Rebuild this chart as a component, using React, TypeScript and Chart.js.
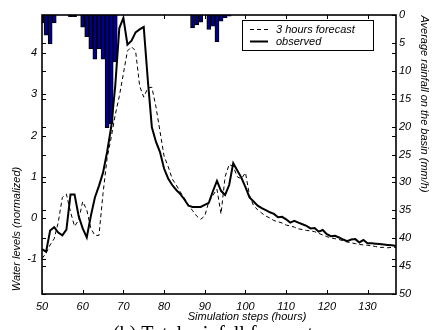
import React, { useEffect, useRef } from "react";
import { Chart, registerables } from "chart.js";

Chart.register(...registerables);

// ---- data ----
const START_HOUR = 50;
const OBSERVED = [
  -0.75, -0.82, -0.3, -0.22, -0.35, -0.42, -0.28, 0.57, 0.57, 0.05,
  -0.25, -0.47, 0.05, 0.5, 0.78, 1.1, 1.6, 2.2, 3.2, 4.6,
  4.85, 4.2, 4.3, 4.5, 4.57, 4.63, 3.35, 2.2, 1.85, 1.6,
  1.2, 0.96, 0.8, 0.68, 0.58, 0.45, 0.3, 0.27, 0.27, 0.27,
  0.32, 0.37, 0.65, 0.9, 0.66, 0.56, 0.8, 1.33, 1.15, 0.98,
  0.75, 0.5, 0.4, 0.3, 0.24, 0.19, 0.14, 0.1, 0.02, 0.03,
  -0.03, -0.11, -0.07, -0.11, -0.15, -0.19, -0.25, -0.24, -0.33, -0.29,
  -0.39, -0.44, -0.43, -0.47, -0.52, -0.56, -0.52, -0.51, -0.59, -0.53,
  -0.61, -0.61, -0.62, -0.63, -0.64, -0.65, -0.66, -0.68,
];
const FORECAST = [
  -0.98, -0.85, -0.65, -0.5, -0.1, 0.5, 0.58, 0.15, -0.2, -0.05,
  0.4, 0.2, -0.25, -0.42, -0.42, 0.6, 1.45, 1.95, 2.5, 2.95,
  3.5, 4.05, 4.15, 4.05, 3.2, 2.93, 3.15, 3.17, 2.7, 2.1,
  1.5, 1.25, 0.95, 0.8, 0.63, 0.48, 0.32, 0.18, 0.05, -0.03,
  0.05, 0.4, 0.55, 0.7, 0.1, 1.0, 1.3, 1.25, 1.0, 0.95,
  1.1, 0.55, 0.3, 0.2, 0.12, 0.05, 0.0, -0.06, -0.09, -0.12,
  -0.17, -0.19, -0.22, -0.26, -0.28, -0.3, -0.31, -0.33, -0.37, -0.41,
  -0.45, -0.48, -0.5, -0.52, -0.55, -0.58, -0.6, -0.62, -0.64, -0.65,
  -0.66, -0.67, -0.69, -0.71, -0.71, -0.72, -0.71, -0.71,
];
const RAIN_HOURS = [50, 51, 52, 53, 57, 58, 60, 61, 62, 63, 64, 65, 66, 67, 68, 87, 88, 89, 91, 92, 93, 94, 95, 96];
const RAIN = [1.4, 3.6, 5.2, 1.4, 0.3, 0.3, 2.2, 3.9, 6.1, 7.9, 6.1, 7.9, 20.2, 19.5, 8.4, 2.3, 1.8, 1.3, 2.6, 2.0, 4.8, 1.1, 0.5, 0.2];

const X_TICKS = [50, 60, 70, 80, 90, 100, 110, 120, 130];
const LEFT_TICKS = [-1, 0, 1, 2, 3, 4];
const RIGHT_TICKS = [0, 5, 10, 15, 20, 25, 30, 35, 40, 45, 50];

const FORECAST_LABEL = "3 hours forecast";
const OBSERVED_LABEL = "observed";
const X_TITLE = "Simulation steps (hours)";
const LEFT_TITLE = "Water levels (normalized)";
const RIGHT_TITLE = "Average rainfall on the basin (mm/h)";
const CAPTION = "(b) Total rainfall forecast";

const FONT = '"Liberation Sans", Arial, sans-serif';

const framePlugin = {
  id: "matlabFrame",
  afterDraw(chart: any) {
    const { ctx, chartArea: a, scales } = chart;
    const L = 4;
    ctx.save();
    ctx.strokeStyle = "#000";
    ctx.lineWidth = 1;
    ctx.setLineDash([]);
    ctx.beginPath();
    scales.x.ticks.forEach((t: any) => {
      const p = Math.round(scales.x.getPixelForValue(t.value)) + 0.5;
      ctx.moveTo(p, a.bottom);
      ctx.lineTo(p, a.bottom - L);
      ctx.moveTo(p, a.top);
      ctx.lineTo(p, a.top + L);
    });
    [scales.y, scales.y2].forEach((s: any) => {
      s.ticks.forEach((t: any) => {
        const p = Math.round(s.getPixelForValue(t.value)) + 0.5;
        ctx.moveTo(a.left, p);
        ctx.lineTo(a.left + L, p);
        ctx.moveTo(a.right, p);
        ctx.lineTo(a.right - L, p);
      });
    });
    ctx.stroke();
    ctx.lineWidth = 1.6;
    ctx.strokeRect(a.left, a.top, a.right - a.left, a.bottom - a.top);

    // legend
    const lx = a.right - 154;
    const ly = a.top + 5;
    const lw = 131;
    const lh = 30;
    ctx.fillStyle = "#fff";
    ctx.fillRect(lx, ly, lw, lh);
    ctx.lineWidth = 1;
    ctx.strokeRect(lx + 0.5, ly + 0.5, lw, lh);
    const ds = chart.data.datasets;
    const items = [ds[0], ds[1]];
    items.forEach((d: any, i: number) => {
      const yy = ly + 9.5 + i * 12;
      ctx.beginPath();
      ctx.strokeStyle = "#000";
      ctx.lineWidth = d.borderWidth;
      ctx.setLineDash(d.borderDash || []);
      ctx.moveTo(lx + 8, yy);
      ctx.lineTo(lx + 26, yy);
      ctx.stroke();
      ctx.setLineDash([]);
      ctx.fillStyle = "#000";
      ctx.font = `italic 11px ${FONT}`;
      ctx.textAlign = "left";
      ctx.textBaseline = "middle";
      ctx.fillText(d.label, lx + 34, yy);
    });

    // titles
    ctx.fillStyle = "#000";
    ctx.font = `italic 11px ${FONT}`;
    ctx.textAlign = "center";
    ctx.textBaseline = "middle";
    ctx.fillText(X_TITLE, 247, a.bottom + 23);
    ctx.save();
    ctx.translate(16.5, 229);
    ctx.rotate(-Math.PI / 2);
    ctx.fillText(LEFT_TITLE, 0, 0);
    ctx.restore();
    ctx.save();
    ctx.translate(424, 104);
    ctx.rotate(Math.PI / 2);
    ctx.fillText(RIGHT_TITLE, 0, 0);
    ctx.restore();

    // caption (cut off by the picture edge)
    ctx.font = `20px "Liberation Serif", "Times New Roman", serif`;
    ctx.textAlign = "left";
    ctx.textBaseline = "alphabetic";
    ctx.fillText(CAPTION, 113, 340);
    ctx.restore();
  },
};

export default function App() {
  const ref = useRef<HTMLCanvasElement>(null);
  useEffect(() => {
    const hours = OBSERVED.map((_, i) => START_HOUR + i);
    const tickFont = { family: FONT, size: 11, style: "italic" as const };
    const chart = new Chart(ref.current as HTMLCanvasElement, {
      type: "line",
      data: {
        datasets: [
          {
            label: FORECAST_LABEL,
            data: hours.map((h, i) => ({ x: h, y: FORECAST[i] })),
            borderColor: "#000",
            borderWidth: 1,
            borderDash: [4, 3],
            pointRadius: 0,
            tension: 0,
            yAxisID: "y",
            order: 1,
          } as any,
          {
            label: OBSERVED_LABEL,
            data: hours.map((h, i) => ({ x: h, y: OBSERVED[i] })),
            borderColor: "#000",
            borderWidth: 2,
            pointRadius: 0,
            tension: 0,
            yAxisID: "y",
            order: 2,
          } as any,
          {
            type: "bar",
            label: "rainfall",
            data: RAIN_HOURS.map((h, i) => ({ x: h, y: RAIN[i] })),
            backgroundColor: "#000088",
            borderColor: "#000",
            borderWidth: 1,
            barPercentage: 1,
            categoryPercentage: 1,
            yAxisID: "y2",
            order: 10,
          } as any,
        ],
      },
      options: {
        responsive: false,
        animation: false,
        devicePixelRatio: 1,
        layout: { padding: { top: 15, left: 0, right: 0, bottom: 0 } },
        plugins: { legend: { display: false }, tooltip: { enabled: false } },
        scales: {
          x: {
            type: "linear",
            position: "bottom",
            offset: false,
            min: 50,
            max: 137,
            grid: { display: false, drawTicks: false, offset: false },
            border: { display: false },
            ticks: { font: tickFont, color: "#000", padding: 6, maxRotation: 0, autoSkip: false, includeBounds: false },
            afterBuildTicks: (s: any) => {
              s.ticks = X_TICKS.map((v) => ({ value: v }));
            },
            afterFit: (s: any) => {
              s.height = 36;
            },
          },
          y: {
            type: "linear",
            position: "left",
            min: -1.84,
            max: 4.92,
            grid: { display: false, drawTicks: false },
            border: { display: false },
            ticks: { font: tickFont, color: "#000", padding: 5, includeBounds: false },
            afterBuildTicks: (s: any) => {
              s.ticks = LEFT_TICKS.map((v) => ({ value: v }));
            },
            afterFit: (s: any) => {
              s.width = 42;
            },
          },
          y2: {
            type: "linear",
            position: "right",
            min: 0,
            max: 50,
            reverse: true,
            grid: { display: false, drawTicks: false },
            border: { display: false },
            ticks: { font: tickFont, color: "#000", padding: 3, includeBounds: false },
            afterBuildTicks: (s: any) => {
              s.ticks = RIGHT_TICKS.map((v) => ({ value: v }));
            },
            afterFit: (s: any) => {
              s.width = 37;
            },
          },
        },
      },
      plugins: [framePlugin],
    } as any);
    return () => chart.destroy();
  }, []);
  return (
    <div style={{ position: "fixed", left: 0, top: 0, width: 433, height: 330, background: "#fff", overflow: "hidden" }}>
      <canvas ref={ref} width={433} height={330} style={{ display: "block", width: 433, height: 330 }} />
    </div>
  );
}
